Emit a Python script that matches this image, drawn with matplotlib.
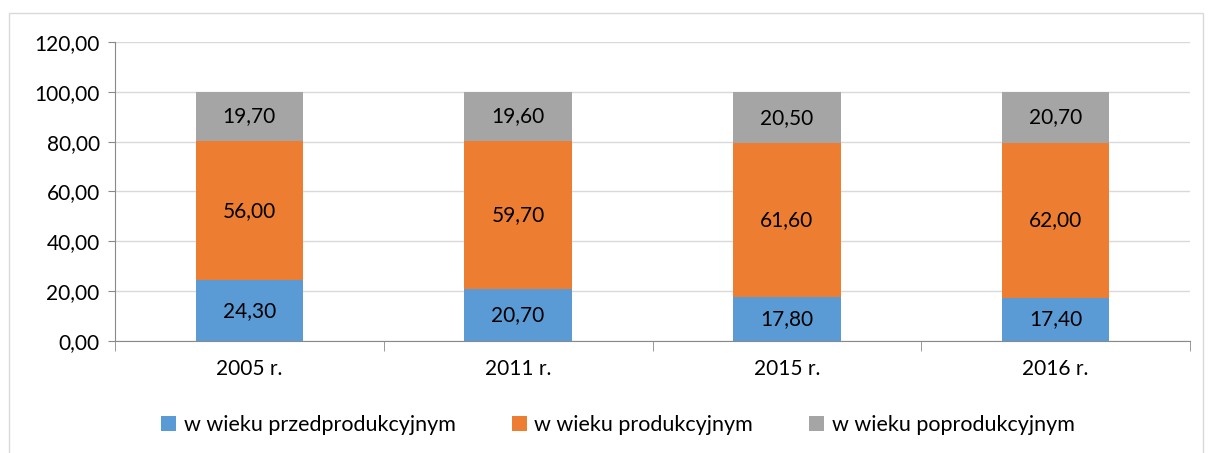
import numpy as np
import matplotlib.pyplot as plt
from matplotlib.patches import Rectangle

lata = ["2005 r.", "2011 r.", "2015 r.", "2016 r."]
przed = [24.30, 20.70, 17.80, 17.40]
prod = [56.00, 59.70, 61.60, 62.00]
poprod = [19.70, 19.60, 20.50, 20.70]
serie = ["w wieku przedprodukcyjnym", "w wieku produkcyjnym", "w wieku poprodukcyjnym"]
kolory = ["#5B9BD5", "#ED7D31", "#A5A5A5"]

plt.rcParams['font.family'] = ['Lato', 'DejaVu Sans']
fs = 15

fig = plt.figure(figsize=(12.08, 4.53), dpi=100)
W, H = 1208, 453
ax = fig.add_axes([115 / W, 1 - 341 / H, (1190 - 115) / W, (341 - 42) / H])

# ramka wykresu
fig.patches.append(Rectangle((9 / W, -0.1), (1203 - 9) / W, 1.1 - 13 / H, transform=fig.transFigure,
                             fill=False, edgecolor="#D9D9D9", lw=1))

x = np.arange(len(lata))
dol = np.zeros(len(lata))
for vals, nazwa, kol in zip([przed, prod, poprod], serie, kolory):
    bars = ax.bar(x, vals, width=0.4, bottom=dol, color=kol, label=nazwa, zorder=3)
    for b, v, d in zip(bars, vals, dol):
        ax.text(b.get_x() + b.get_width() / 2, d + v / 2, f"{v:.2f}".replace(".", ","),
                ha="center", va="center", fontsize=fs, color="black", zorder=4)
    dol = dol + np.array(vals)

ax.set_xlim(-0.5, len(lata) - 0.5)
ax.set_ylim(0, 120)
ax.set_yticks(np.arange(0, 121, 20))
ax.set_yticklabels([f"{v:.2f}".replace(".", ",") for v in np.arange(0, 121, 20)], fontsize=fs)
ax.set_xticks(x)
ax.set_xticklabels(lata, fontsize=fs)
ax.set_xticks(np.arange(-0.5, len(lata), 1), minor=True)
ax.tick_params(axis="x", which="major", length=0, pad=13)
ax.tick_params(axis="x", which="minor", length=7, color="#898989", direction="out")
ax.tick_params(axis="y", length=5, color="#898989", pad=6)
ax.grid(axis="y", color="#D9D9D9", lw=1, zorder=0)
for s in ["top", "right"]:
    ax.spines[s].set_visible(False)
for s in ["left", "bottom"]:
    ax.spines[s].set_color("#898989")

fig.legend(loc="center", bbox_to_anchor=(618 / W, 1 - 425 / H), ncol=3, frameon=False,
           fontsize=15.5, handlelength=0.7, handleheight=0.7, handletextpad=0.35, columnspacing=2.6)

plt.savefig("out.png", dpi=100)
